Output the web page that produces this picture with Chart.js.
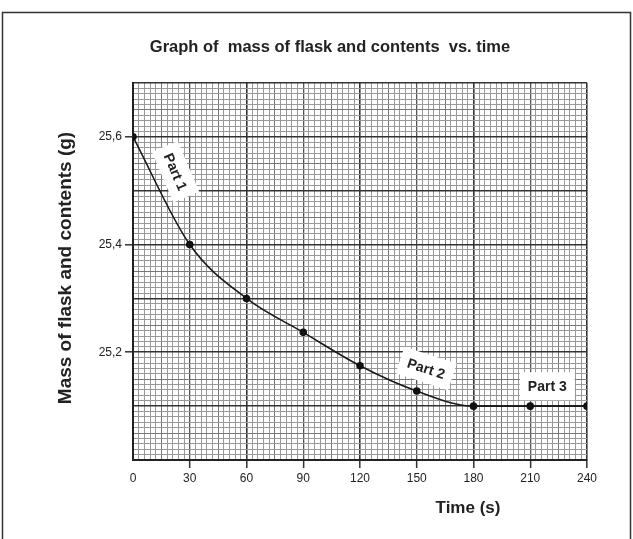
<!DOCTYPE html>
<html>
<head>
<meta charset="utf-8">
<script src="https://cdn.jsdelivr.net/npm/chart.js@4.4.1/dist/chart.umd.min.js"></script>
<style>
  body { margin: 0; background: #fff; }
  #wrap { width: 633px; height: 539px; }
</style>
</head>
<body>
<div id="wrap"><canvas id="massChart" width="633" height="539"></canvas></div>
<script>
// readings
const times = [0, 30, 60, 90, 120, 150, 180, 210, 240];
const masses = [25.6, 25.4, 25.3, 25.237, 25.175, 25.128, 25.1, 25.1, 25.1];
const xTickLabels = ["0", "30", "60", "90", "120", "150", "180", "210", "240"];
const yTickLabels = ["25,2", "25,4", "25,6"];
const yTickValues = [25.2, 25.4, 25.6];

const chartTitle = "Graph of  mass of flask and contents  vs. time";
const xTitle = "Time (s)";
const yTitle = "Mass of flask and contents (g)";

// the little white "Part" stickers, placed in data units
const notes = [
  { text: "Part 1", x: 22.5, y: 25.535, angle: 67 },
  { text: "Part 2", x: 155, y: 25.17, angle: 18 },
  { text: "Part 3", x: 219, y: 25.137, angle: 0 },
];

const font = "'Liberation Sans', Arial, sans-serif";

function xGrid(v) {
  v = Math.round(v);
  if (v % 60 === 0) return ["#333", 1.6];
  if (v % 30 === 0) return ["#555", 1.3];
  if (v % 15 === 0) return ["#777", 1];
  return ["#999", 1];
}
function yGrid(v) {
  const c = Math.round(v * 100);
  if (c % 10 === 0) return ["#333", 1.6];
  if (c % 5 === 0) return ["#777", 1];
  return ["#999", 1];
}
function yLabelIndex(v) {
  return yTickValues.findIndex(t => Math.abs(t - v) < 0.001);
}

const extras = {
  id: "extras",
  beforeDraw(chart) {
    const ctx = chart.ctx;
    ctx.save();
    ctx.fillStyle = "#fff";
    ctx.fillRect(0, 0, chart.width, chart.height);
    ctx.strokeStyle = "#333";
    ctx.lineWidth = 1.5;
    ctx.strokeRect(2.5, 12.5, 628, 540);
    ctx.restore();
  },
  afterDraw(chart) {
    const ctx = chart.ctx;
    const xs = chart.scales.x, ys = chart.scales.y;
    ctx.save();
    ctx.fillStyle = "#222";
    ctx.textAlign = "center";
    ctx.textBaseline = "middle";

    ctx.font = "bold 16.5px " + font;
    ctx.fillText(chartTitle, 330, 47);

    ctx.font = "bold 17px " + font;
    ctx.fillText(xTitle, 468, 508);

    ctx.save();
    ctx.translate(66, 268);
    ctx.rotate(-Math.PI / 2);
    ctx.font = "bold 19px " + font;
    ctx.fillText(yTitle, 0, 0);
    ctx.restore();

    ctx.font = "bold 14px " + font;
    notes.forEach(n => {
      const px = xs.getPixelForValue(n.x);
      const py = ys.getPixelForValue(n.y);
      const w = ctx.measureText(n.text).width;
      ctx.save();
      ctx.translate(px, py);
      ctx.rotate(n.angle * Math.PI / 180);
      ctx.fillStyle = "#fff";
      ctx.fillRect(-w / 2 - 8, -14, w + 16, 28);
      ctx.fillStyle = "#222";
      ctx.fillText(n.text, 0, 1);
      ctx.restore();
    });
    ctx.restore();
  },
};

new Chart(document.getElementById("massChart"), {
  type: "line",
  data: {
    datasets: [
      {
        data: times.map((t, i) => ({ x: t, y: masses[i] })),
        borderColor: "#1a1a1a",
        borderWidth: 1.6,
        pointRadius: 3,
        pointBackgroundColor: "#111",
        pointBorderColor: "#111",
        cubicInterpolationMode: "monotone",
      },
    ],
  },
  options: {
    responsive: false,
    animation: false,
    layout: { padding: { top: 83, right: 46, left: 0, bottom: 0 } },
    plugins: {
      legend: { display: false },
      tooltip: { enabled: false },
    },
    scales: {
      x: {
        type: "linear",
        min: 0,
        max: 240,
        afterFit(scale) { scale.height = 79; },
        afterBuildTicks(scale) {
          const t = [];
          for (let v = 0; v <= 240; v += 3) t.push({ value: v });
          scale.ticks = t;
        },
        ticks: {
          autoSkip: false,
          maxRotation: 0,
          padding: 3,
          color: "#222",
          font: { family: font, size: 12 },
          callback(v) {
            const i = times.indexOf(Math.round(v));
            return Math.round(v) % 30 === 0 && i >= 0 ? xTickLabels[i] : "";
          },
        },
        grid: {
          color: c => xGrid(c.tick.value)[0],
          lineWidth: c => xGrid(c.tick.value)[1],
          tickLength: 8,
          tickColor: c => (Math.round(c.tick.value) % 30 === 0 && c.tick.value > 0 ? "#333" : "transparent"),
          tickWidth: 1.5,
        },
        border: { display: true, color: "#222", width: 2 },
      },
      y: {
        type: "linear",
        min: 25.0,
        max: 25.7,
        afterFit(scale) { scale.width = 133; },
        afterBuildTicks(scale) {
          const t = [];
          for (let c = 2500; c <= 2570; c++) t.push({ value: c / 100 });
          scale.ticks = t;
        },
        ticks: {
          autoSkip: false,
          padding: 3,
          color: "#222",
          font: { family: font, size: 12 },
          callback(v) {
            const i = yLabelIndex(v);
            return i >= 0 ? yTickLabels[i] : "";
          },
        },
        grid: {
          color: c => yGrid(c.tick.value)[0],
          lineWidth: c => yGrid(c.tick.value)[1],
          tickLength: 8,
          tickColor: c => (yLabelIndex(c.tick.value) >= 0 ? "#333" : "transparent"),
          tickWidth: 1.5,
        },
        border: { display: true, color: "#222", width: 2 },
      },
    },
  },
  plugins: [extras],
});
</script>
</body>
</html>
